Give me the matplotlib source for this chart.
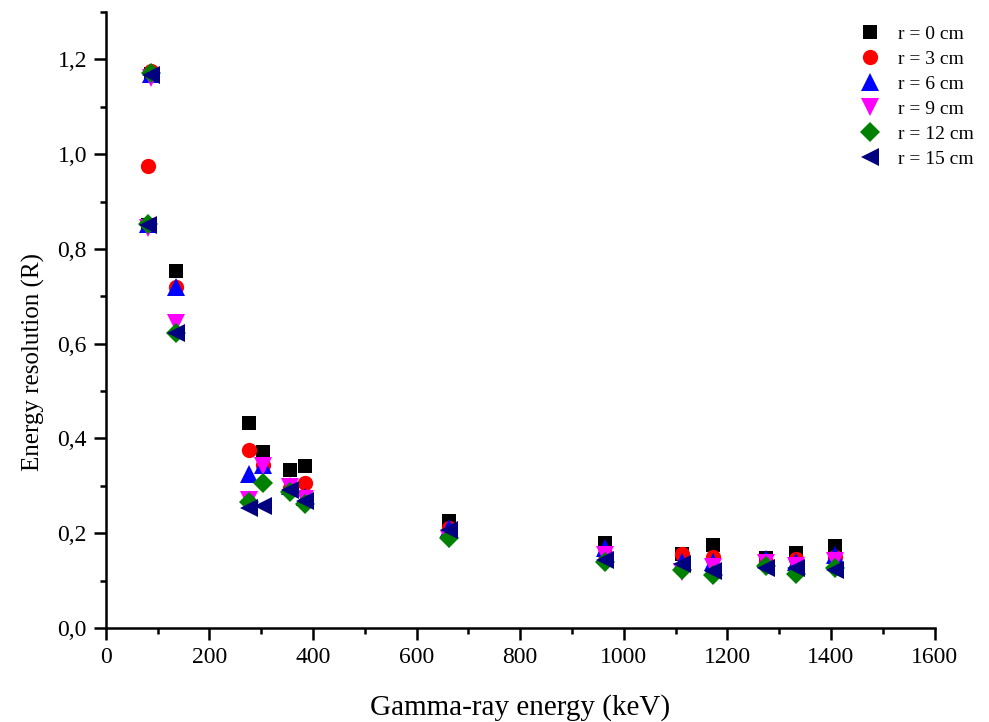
import matplotlib.pyplot as plt
from matplotlib.ticker import MultipleLocator, FuncFormatter

# gamma-ray lines (keV)
energy = [81, 88, 136, 276, 303, 356, 384, 662, 964, 1112, 1173, 1275, 1332, 1408]

# energy resolution per source radius
res_r0 = [0.850, 1.170, 0.753, 0.433, 0.372, 0.334, 0.342, 0.225, 0.180, 0.157, 0.176, 0.148, 0.158, 0.173]
res_r3 = [0.975, 1.175, 0.720, 0.376, 0.345, 0.295, 0.306, 0.210, 0.157, 0.156, 0.150, 0.140, 0.145, 0.150]
res_r6 = [0.852, 1.170, 0.720, 0.325, 0.344, 0.300, 0.277, 0.210, 0.169, 0.140, 0.140, 0.146, 0.140, 0.154]
res_r9 = [0.845, 1.160, 0.643, 0.270, 0.341, 0.297, 0.272, 0.188, 0.154, 0.119, 0.129, 0.138, 0.130, 0.141]
res_r12 = [0.853, 1.172, 0.622, 0.266, 0.307, 0.288, 0.262, 0.190, 0.140, 0.123, 0.112, 0.130, 0.113, 0.127]
res_r15 = [0.850, 1.168, 0.622, 0.253, 0.258, 0.292, 0.267, 0.207, 0.143, 0.136, 0.121, 0.127, 0.127, 0.123]

labels = ["r = 0 cm", "r = 3 cm", "r = 6 cm", "r = 9 cm", "r = 12 cm", "r = 15 cm"]

plt.rcParams['font.family'] = ['Liberation Serif', 'DejaVu Serif']

fig = plt.figure(figsize=(9.89, 7.22), dpi=100)
ax = fig.add_axes([0.1069, 0.1302, 0.838, 0.8532])

styles = [
    ("s", "#000000", 9.5),
    ("o", "#ff0000", 11),
    ("^", "#0000ff", 12.5),
    ("v", "#ff00ff", 12.5),
    ("D", "#008000", 10.5),
    ("<", "#000080", 12.5),
]
series = [res_r0, res_r3, res_r6, res_r9, res_r12, res_r15]

for vals, lab, (mk, col, ms) in zip(series, labels, styles):
    ax.plot(energy, vals, linestyle="none", marker=mk, color=col,
            markersize=ms, markeredgewidth=0, label=lab)

ax.set_xlim(0, 1600)
ax.set_ylim(0, 1.3)
ax.xaxis.set_major_locator(MultipleLocator(200))
ax.xaxis.set_minor_locator(MultipleLocator(100))
ax.yaxis.set_major_locator(MultipleLocator(0.2))
ax.yaxis.set_minor_locator(MultipleLocator(0.1))
ax.yaxis.set_major_formatter(FuncFormatter(lambda v, p: f"{v:.1f}".replace(".", ",")))

for s in ("top", "right"):
    ax.spines[s].set_visible(False)
for s in ("left", "bottom"):
    ax.spines[s].set_linewidth(1.8)

ax.tick_params(which="major", direction="out", length=8.5, width=1.8, labelsize=17, pad=5)
ax.tick_params(which="minor", direction="out", length=4.5, width=1.8)

ax.set_xlabel("Gamma-ray energy (keV)", fontsize=21, labelpad=19)
ax.set_ylabel("Energy resolution (R)", fontsize=18)
ax.yaxis.set_label_coords(-0.073, 0.432)

ax.legend(loc="upper right", bbox_to_anchor=(0.985, 0.965), bbox_transform=fig.transFigure,
          frameon=False, fontsize=14, handlelength=1.0, handletextpad=0.95,
          labelspacing=0.38, borderpad=0, borderaxespad=0)

fig.savefig("out.png", dpi=100)
